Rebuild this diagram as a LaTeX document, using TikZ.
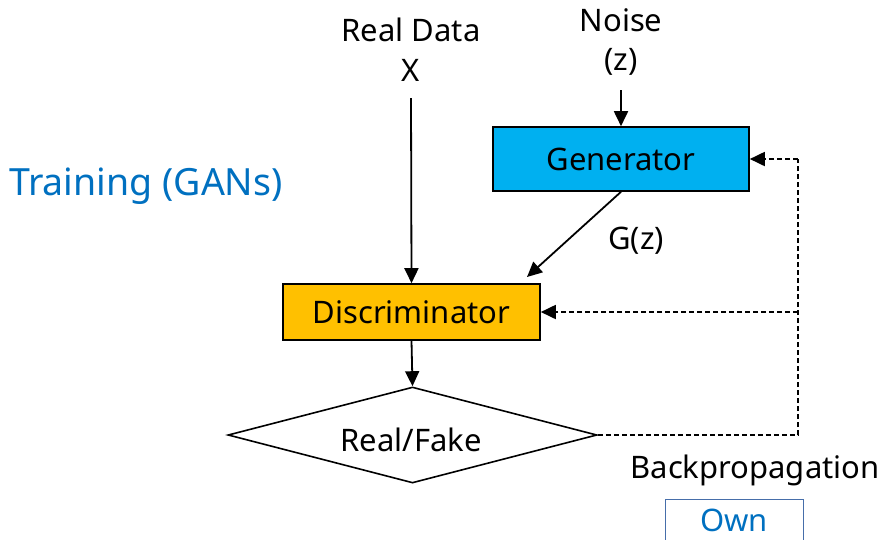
\documentclass[tikz,border=0pt]{standalone}
\usepackage{fontspec}
\setmainfont{Noto Sans}
\usetikzlibrary{arrows.meta,shapes.geometric}
\definecolor{gencyan}{RGB}{0,176,240}
\definecolor{discgold}{RGB}{255,192,0}
\definecolor{titleblue}{RGB}{0,112,192}
\definecolor{ownframe}{RGB}{70,110,170}
\begin{document}
\begin{tikzpicture}[x=1pt,y=-1pt,
  every node/.style={font=\fontsize{31}{36}\selectfont, inner sep=0pt},
  block/.style={draw=black, line width=1.6pt},
  tip/.tip={Triangle[length=15pt,width=14pt]},
  flow/.style={line width=1.8pt, -tip},
  fb/.style={line width=1.8pt, dash pattern=on 5pt off 3pt}]
\useasboundingbox (0,0) rectangle (885,539);
% title
\node[anchor=west, text=titleblue, font=\fontsize{37.5}{44}\selectfont] (title) at (9,186) {Training (GANs)};
% inputs
\node (realdata) at (411,30) {Real Data};
\node (x) at (411,70) {X};
\node (noise) at (621,20) {Noise};
\node (z) at (621,62) {(z)};
\coordinate (xend) at (411,98);
\coordinate (zend) at (621,90);
% blocks
\node[block, fill=gencyan, minimum width=256pt, minimum height=64pt] (gen) at (621,159) {Generator};
\node[block, fill=discgold, minimum width=257pt, minimum height=56pt] (disc) at (411.5,312) {Discriminator};
\node[draw=black, line width=1.6pt, diamond, aspect=3.85, minimum width=369pt, minimum height=96pt] (rf) at (412.5,435) {};
\node (rftext) at (411,440) {Real/Fake};
\node (gz) at (636,241) {G(z)};
\node (bp) at (755,470) {Backpropagation};
\node[draw=ownframe, line width=1pt, minimum width=138pt, minimum height=44pt, anchor=north west] (own) at (665,499) {};
\node[text=titleblue] (owntext) at (734,520) {Own};
% solid flow
\draw[flow] (xend) -- (disc.north);
\draw[flow] (zend) -- (gen.north);
\coordinate (gzend) at (527,277);
\draw[flow] (gen.south) -- (gzend);
\draw[flow] (disc.south) -- (rf.north);
% feedback
\coordinate (c1) at (798,435);
\coordinate (c2) at (798,312);
\coordinate (c3) at (798,159);
\draw[fb] (rf.east) -- (c1) -- (c3);
\draw[fb, -tip] (c3) -- (gen.east);
\draw[fb, -tip] (c2) -- (disc.east);
\end{tikzpicture}
\end{document}
